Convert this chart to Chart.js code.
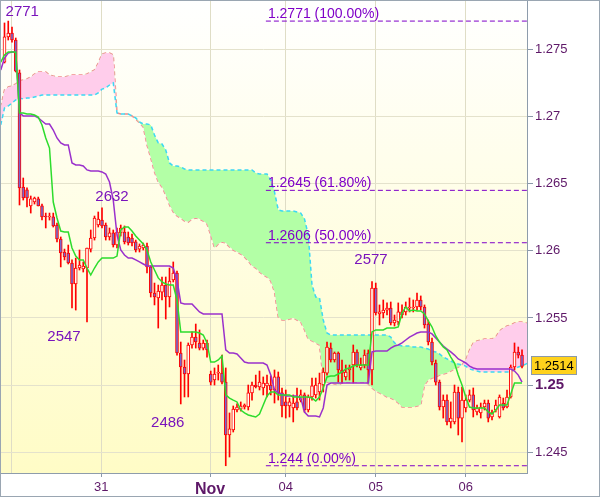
<!DOCTYPE html>
<html>
<head>
<meta charset="utf-8">
<title>Ichimoku 1H</title>
<script src="https://cdn.jsdelivr.net/npm/chart.js@4.4.1/dist/chart.umd.min.js"></script>
<style>
  html, body { margin: 0; padding: 0; background: #fff; }
  #chart { display: block; }
</style>
</head>
<body>
<canvas id="chart" width="600" height="497"></canvas>
<script>
// ---------------- DATA ----------------
// hourly candles, index 0 = first visible bar

const opens = [1.27405,1.27592,1.27621,1.27569,1.27324,1.26475,1.26453,1.26334,1.26363,1.26386,
  1.26334,1.26259,1.26252,1.26252,1.26192,1.26088,1.25991,1.25984,1.25909,1.25753,
  1.25872,1.25865,1.25872,1.26013,1.26095,1.26192,1.26229,1.26192,1.26103,1.26133,
  1.26043,1.26133,1.26140,1.26103,1.26095,1.26066,1.26013,1.26021,1.26036,1.25880,
  1.25686,1.25649,1.25693,1.25745,1.25656,1.25783,1.25835,1.25239,1.25135,1.25083,
  1.25299,1.25358,1.25314,1.25276,1.25314,1.25083,1.25038,1.25090,1.25090,1.25023,
  1.24629,1.24666,1.24815,1.24822,1.24837,1.24837,1.24942,1.25001,1.24986,1.24979,
  1.24994,1.25001,1.24964,1.25061,1.24942,1.24875,1.24845,1.24830,1.24875,1.24889,
  1.24927,1.24815,1.24912,1.24927,1.24949,1.25001,1.25090,1.25276,1.25187,1.25239,
  1.25113,1.25061,1.25113,1.25150,1.25247,1.25128,1.25150,1.25239,1.25113,1.25723,
  1.25530,1.25537,1.25559,1.25574,1.25463,1.25470,1.25545,1.25545,1.25574,1.25574,
  1.25582,1.25634,1.25582,1.25455,1.25321,1.25165,1.25023,1.24837,1.24889,1.24726,
  1.24726,1.24949,1.24755,1.24830,1.24889,1.24927,1.24800,1.24793,1.24837,1.24867,
  1.24763,1.24815,1.24763,1.24867,1.24837,1.24912,1.25135,1.25247,1.25224];

const highs = [1.27696,1.27710,1.27666,1.27584,1.27346,1.26542,1.26468,1.26408,1.26400,1.26400,
  1.26348,1.26281,1.26281,1.26281,1.26207,1.26103,1.26013,1.26043,1.25932,1.25946,
  1.26006,1.25917,1.26021,1.26155,1.26259,1.26289,1.26320,1.26207,1.26170,1.26155,
  1.26170,1.26192,1.26185,1.26140,1.26125,1.26080,1.26051,1.26058,1.26058,1.25887,
  1.25760,1.25745,1.25805,1.25805,1.25872,1.25917,1.25850,1.25321,1.25187,1.25314,
  1.25396,1.25455,1.25411,1.25336,1.25336,1.25105,1.25128,1.25150,1.25224,1.25128,
  1.24793,1.24845,1.24860,1.24875,1.24860,1.25001,1.25023,1.25075,1.25105,1.25061,
  1.25075,1.25068,1.25113,1.25098,1.24979,1.24964,1.24904,1.24927,1.24979,1.24964,
  1.24942,1.24927,1.25053,1.25053,1.25090,1.25128,1.25321,1.25314,1.25247,1.25247,
  1.25187,1.25150,1.25150,1.25299,1.25262,1.25202,1.25262,1.25262,1.25770,1.25760,
  1.25597,1.25634,1.25612,1.25619,1.25522,1.25612,1.25597,1.25619,1.25649,1.25634,
  1.25686,1.25664,1.25597,1.25485,1.25351,1.25187,1.25038,1.24927,1.24927,1.24875,
  1.25001,1.24986,1.24986,1.24927,1.24964,1.24979,1.24852,1.24867,1.24889,1.24889,
  1.24815,1.24889,1.24927,1.24904,1.24964,1.25150,1.25314,1.25284,1.25262];

const lows = [1.27398,1.27569,1.27554,1.27331,1.26341,1.26378,1.26326,1.26281,1.26348,1.26334,
  1.26229,1.26170,1.26229,1.26177,1.26066,1.25880,1.25932,1.25902,1.25574,1.25559,
  1.25857,1.25842,1.25470,1.25991,1.26080,1.26177,1.26170,1.26080,1.26080,1.26028,
  1.26021,1.26110,1.26051,1.26043,1.26036,1.25991,1.25991,1.26006,1.25835,1.25656,
  1.25597,1.25425,1.25634,1.25492,1.25582,1.25768,1.25224,1.24860,1.24912,1.24912,
  1.25276,1.25276,1.25262,1.25262,1.25209,1.25001,1.25001,1.25038,1.25009,1.24400,
  1.24465,1.24651,1.24800,1.24807,1.24822,1.24815,1.24889,1.24979,1.24964,1.24927,
  1.24912,1.24927,1.24867,1.24889,1.24763,1.24755,1.24763,1.24726,1.24815,1.24875,
  1.24800,1.24800,1.24889,1.24904,1.24889,1.24949,1.25075,1.25172,1.25172,1.25023,
  1.25016,1.25038,1.25038,1.25016,1.25135,1.25113,1.25128,1.25016,1.25001,1.25522,
  1.25448,1.25500,1.25522,1.25448,1.25440,1.25448,1.25500,1.25522,1.25545,1.25545,
  1.25559,1.25559,1.25425,1.25299,1.25150,1.25001,1.24815,1.24755,1.24703,1.24681,
  1.24711,1.24629,1.24577,1.24800,1.24875,1.24763,1.24778,1.24755,1.24815,1.24726,
  1.24741,1.24800,1.24755,1.24815,1.24830,1.24904,1.25113,1.25202,1.25128];

const closes = [1.27592,1.27621,1.27569,1.27338,1.26468,1.26393,1.26393,1.26386,1.26393,1.26334,
  1.26252,1.26252,1.26259,1.26185,1.26088,1.25984,1.25954,1.25909,1.25753,1.25872,
  1.25894,1.25887,1.26021,1.26095,1.26244,1.26237,1.26185,1.26103,1.26133,1.26043,
  1.26140,1.26170,1.26066,1.26058,1.26058,1.26006,1.26036,1.26043,1.25880,1.25686,
  1.25656,1.25701,1.25745,1.25656,1.25775,1.25835,1.25239,1.25135,1.25083,1.25299,
  1.25358,1.25321,1.25276,1.25314,1.25262,1.25023,1.25083,1.25098,1.25023,1.24629,
  1.24674,1.24822,1.24837,1.24845,1.24852,1.24942,1.25001,1.24986,1.25023,1.25016,
  1.25016,1.24964,1.25061,1.24942,1.24845,1.24845,1.24875,1.24867,1.24830,1.24927,
  1.24815,1.24912,1.24994,1.25001,1.25016,1.25098,1.25284,1.25187,1.25239,1.25113,
  1.25090,1.25098,1.25128,1.25247,1.25150,1.25150,1.25224,1.25113,1.25723,1.25537,
  1.25545,1.25559,1.25574,1.25463,1.25485,1.25545,1.25522,1.25582,1.25582,1.25582,
  1.25634,1.25582,1.25448,1.25321,1.25172,1.25023,1.24837,1.24889,1.24726,1.24755,
  1.24949,1.24755,1.24889,1.24889,1.24927,1.24815,1.24830,1.24837,1.24867,1.24755,
  1.24793,1.24852,1.24912,1.24830,1.24912,1.25135,1.25247,1.25224,1.25140];

// Ichimoku lines, first value sits at bar index -1
const lineStart = -1;

const tenkan = [1.27405,1.27458,1.27480,1.27480,1.27480,1.27026,1.27026,1.27018,1.27018,1.27011,
  1.26996,1.26937,1.26840,1.26765,1.26363,1.26244,1.26147,1.26140,1.26140,1.26021,
  1.25961,1.25932,1.25932,1.25872,1.25820,1.25872,1.25917,1.25946,1.25946,1.25946,
  1.25946,1.25961,1.26155,1.26177,1.26177,1.26147,1.26110,1.26080,1.26051,1.26006,
  1.25917,1.25857,1.25798,1.25768,1.25753,1.25745,1.25745,1.25634,1.25396,1.25396,
  1.25396,1.25396,1.25396,1.25388,1.25373,1.25314,1.25172,1.25172,1.25187,1.25217,
  1.24927,1.24904,1.24889,1.24875,1.24815,1.24793,1.24778,1.24770,1.24763,1.24785,
  1.24852,1.24919,1.24949,1.24949,1.24927,1.24927,1.24927,1.24927,1.24912,1.24912,
  1.24912,1.24912,1.24912,1.24904,1.24882,1.24912,1.24979,1.25061,1.25068,1.25068,
  1.25083,1.25098,1.25120,1.25128,1.25142,1.25150,1.25150,1.25150,1.25150,1.25396,
  1.25411,1.25411,1.25411,1.25425,1.25425,1.25425,1.25433,1.25537,1.25582,1.25552,
  1.25559,1.25552,1.25552,1.25530,1.25478,1.25433,1.25366,1.25321,1.25284,1.25262,
  1.25209,1.25165,1.25075,1.25001,1.24912,1.24837,1.24830,1.24830,1.24830,1.24830,
  1.24800,1.24785,1.24815,1.24852,1.24852,1.24852,1.24934,1.25016,1.25016,1.25016];

const kijun = [1.27346,1.27435,1.27472,1.27480,1.27480,1.27026,1.27004,1.27004,1.27004,1.27004,
  1.26989,1.26966,1.26944,1.26944,1.26899,1.26840,1.26803,1.26788,1.26788,1.26654,
  1.26639,1.26639,1.26631,1.26602,1.26594,1.26594,1.26594,1.26587,1.26572,1.26512,
  1.26378,1.26118,1.26006,1.25969,1.25946,1.25946,1.25932,1.25917,1.25902,1.25887,
  1.25887,1.25887,1.25887,1.25887,1.25887,1.25887,1.25872,1.25783,1.25612,1.25604,
  1.25604,1.25604,1.25574,1.25545,1.25530,1.25530,1.25530,1.25530,1.25530,1.25530,
  1.25262,1.25239,1.25239,1.25232,1.25202,1.25172,1.25165,1.25165,1.25165,1.25165,
  1.25165,1.25150,1.25075,1.24964,1.24942,1.24934,1.24919,1.24919,1.24919,1.24919,
  1.24904,1.24800,1.24770,1.24770,1.24770,1.24763,1.24830,1.25001,1.25016,1.25016,
  1.25016,1.25016,1.25016,1.25016,1.25016,1.25016,1.25016,1.25016,1.25016,1.25247,
  1.25254,1.25254,1.25254,1.25254,1.25276,1.25291,1.25299,1.25314,1.25336,1.25358,
  1.25373,1.25388,1.25396,1.25396,1.25396,1.25381,1.25351,1.25321,1.25291,1.25269,
  1.25247,1.25224,1.25195,1.25180,1.25165,1.25142,1.25128,1.25120,1.25120,1.25120,
  1.25120,1.25120,1.25120,1.25120,1.25120,1.25120,1.25120,1.25105,1.25075,1.25023];

const spanA = [1.26937,1.27063,1.27078,1.27100,1.27123,1.27138,1.27130,1.27138,1.27138,1.27145,
  1.27152,1.27160,1.27160,1.27160,1.27160,1.27160,1.27160,1.27160,1.27160,1.27160,
  1.27160,1.27160,1.27160,1.27160,1.27160,1.27160,1.27175,1.27204,1.27212,1.27234,
  1.27249,1.27026,1.27018,1.27018,1.27018,1.27004,1.26989,1.26959,1.26944,1.26944,
  1.26937,1.26862,1.26803,1.26795,1.26750,1.26654,1.26631,1.26631,1.26624,1.26609,
  1.26602,1.26602,1.26602,1.26602,1.26602,1.26602,1.26602,1.26602,1.26602,1.26602,
  1.26602,1.26602,1.26602,1.26602,1.26602,1.26602,1.26602,1.26602,1.26579,1.26572,
  1.26572,1.26572,1.26527,1.26438,1.26304,1.26296,1.26296,1.26296,1.26296,1.26289,
  1.26281,1.26237,1.26118,1.25745,1.25656,1.25649,1.25485,1.25388,1.25373,1.25373,
  1.25373,1.25373,1.25373,1.25373,1.25373,1.25373,1.25373,1.25373,1.25373,1.25373,
  1.25373,1.25373,1.25373,1.25373,1.25358,1.25314,1.25299,1.25291,1.25291,1.25291,
  1.25284,1.25284,1.25284,1.25276,1.25269,1.25254,1.25247,1.25232,1.25209,1.25195,
  1.25180,1.25165,1.25157,1.25150,1.25142,1.25120,1.25113,1.25105,1.25098,1.25098,
  1.25098,1.25098,1.25098,1.25098,1.25098,1.25098,1.25098,1.25120,1.25135,1.25142,
  1.25157,1.25172];

const spanB = [1.27071,1.27197,1.27219,1.27227,1.27242,1.27264,1.27272,1.27279,1.27294,1.27316,
  1.27331,1.27331,1.27331,1.27309,1.27301,1.27294,1.27294,1.27294,1.27301,1.27309,
  1.27309,1.27309,1.27309,1.27316,1.27331,1.27346,1.27398,1.27465,1.27472,1.27472,
  1.27458,1.27026,1.27018,1.27018,1.27018,1.27004,1.26981,1.26951,1.26922,1.26788,
  1.26691,1.26587,1.26512,1.26475,1.26415,1.26341,1.26289,1.26259,1.26244,1.26222,
  1.26214,1.26237,1.26244,1.26237,1.26222,1.26200,1.26118,1.26021,1.26051,1.26066,
  1.26058,1.26028,1.26006,1.25991,1.25976,1.25954,1.25924,1.25887,1.25872,1.25842,
  1.25820,1.25805,1.25775,1.25693,1.25507,1.25485,1.25485,1.25492,1.25500,1.25485,
  1.25470,1.25411,1.25344,1.25329,1.25314,1.25299,1.25038,1.25023,1.25016,1.25009,
  1.25001,1.25016,1.25023,1.25023,1.25023,1.25023,1.25023,1.25023,1.25009,1.24979,
  1.24956,1.24942,1.24927,1.24912,1.24904,1.24889,1.24867,1.24837,1.24837,1.24837,
  1.24837,1.24845,1.24852,1.25001,1.25038,1.25053,1.25061,1.25075,1.25083,1.25090,
  1.25105,1.25120,1.25135,1.25150,1.25187,1.25262,1.25314,1.25329,1.25336,1.25344,
  1.25344,1.25344,1.25358,1.25403,1.25425,1.25440,1.25448,1.25463,1.25470,1.25470,
  1.25463,1.25455];

// fibonacci retracement
const fibLevels = [1.2771, 1.2645, 1.2606, 1.244];
const fibPct = ['100.00%', '61.80%', '50.00%', '0.00%'];
const fibStartIdx = 69.7;

// swing high / low marks
const swingIdx = [1, 26, 22, 47, 98];
const swingVal = [1.2771, 1.2632, 1.2547, 1.2486, 1.2577];
const swingText = ['2771', '2632', '2547', '2486', '2577'];

// axes
const xTickIdx = [1.8, 25.8, 54.8, 75, 99, 123];
const xTickText = ['', '31', 'Nov', '04', '05', '06'];
const yTicks = [1.245, 1.25, 1.255, 1.26, 1.265, 1.27, 1.275];
const yTickText = ['1.245', '1.25', '1.255', '1.26', '1.265', '1.27', '1.275'];
const lastPrice = 1.2514;

// ---------------- LAYOUT / STYLE ----------------
const X_MIN = -1.2, X_MAX = 139.33;
const Y_MIN = 1.24346, Y_MAX = 1.27867;
const FONT = 'Arial, "Liberation Sans", sans-serif';
const swingOffset = [[14, -9], [10, -11], [-23, 15], [-13, 19], [-1, -22]];

const toPoints = (arr, start) => arr.map((v, k) => ({ x: start + k, y: v }));

const wickData = opens.map((o, i) => ({ x: i, y: [lows[i], highs[i]] }));
const bodyData = opens.map((o, i) => ({ x: i, y: [o, closes[i]] }));
const bodyFill = opens.map((o, i) => closes[i] >= o ? '#fffff4' : '#7868cc');

const datasets = [
  {
    // 0: senkou span B
    type: 'line', data: toPoints(spanB, lineStart),
    borderColor: '#f08a8a', borderWidth: 1.5, borderDash: [4, 3],
    pointRadius: 0, fill: false, order: 8, clip: 0
  },
  {
    // 1: senkou span A, cloud filled against span B
    type: 'line', data: toPoints(spanA, lineStart),
    borderColor: '#3cd8f4', borderWidth: 1.5, borderDash: [4, 3],
    pointRadius: 0, order: 7, clip: 0,
    fill: { target: 0, above: '#b3ffa6', below: '#ffcdeb' }
  },
  {
    type: 'bar', data: wickData, backgroundColor: '#ff0000',
    barThickness: 1, borderWidth: 0, grouped: false, order: 5
  },
  {
    type: 'bar', data: bodyData, backgroundColor: bodyFill,
    borderColor: '#ff0000', borderWidth: 1, borderSkipped: false,
    barThickness: 3, grouped: false, order: 4
  },
  {
    type: 'line', data: toPoints(tenkan, lineStart),
    borderColor: '#2ddc2d', borderWidth: 1.5, pointRadius: 0, fill: false, order: 2, clip: 0
  },
  {
    type: 'line', data: toPoints(kijun, lineStart),
    borderColor: '#9a30cc', borderWidth: 1.5, pointRadius: 0, fill: false, order: 2, clip: 0
  }
];

fibLevels.forEach(lv => {
  datasets.push({
    type: 'line', data: [{ x: fibStartIdx, y: lv }, { x: X_MAX + 1, y: lv }],
    borderColor: '#7f00c8', borderWidth: 1, borderDash: [5, 3],
    pointRadius: 0, fill: false, order: 1, clip: 0
  });
});

// ---------------- PLUGINS ----------------
const bgPlugin = {
  id: 'bg',
  beforeDraw(chart) {
    const { ctx, chartArea: a } = chart;
    ctx.save();
    ctx.fillStyle = '#ffffff';
    ctx.fillRect(0, 0, chart.width, chart.height);
    const g = ctx.createLinearGradient(0, a.top, 0, a.bottom);
    g.addColorStop(0, '#ffffff');
    g.addColorStop(1, '#fffcc6');
    ctx.fillStyle = g;
    ctx.fillRect(a.left, a.top, a.right - a.left, a.bottom - a.top);
    ctx.restore();
  }
};

const overlayPlugin = {
  id: 'overlay',
  afterDatasetsDraw(chart) {
    const { ctx, scales: { x, y } } = chart;
    ctx.save();

    // fib labels
    ctx.font = '14px ' + FONT;
    ctx.fillStyle = '#7f00c8';
    ctx.textAlign = 'left';
    ctx.textBaseline = 'alphabetic';
    fibLevels.forEach((lv, k) => {
      ctx.fillText(lv + ' (' + fibPct[k] + ')', x.getPixelForValue(fibStartIdx) + 2, y.getPixelForValue(lv) - 3);
    });

    // swing labels
    ctx.font = '15px ' + FONT;
    ctx.fillStyle = '#7a14bc';
    ctx.textAlign = 'center';
    ctx.textBaseline = 'middle';
    swingText.forEach((t, k) => {
      ctx.fillText(t,
        x.getPixelForValue(swingIdx[k]) + swingOffset[k][0],
        y.getPixelForValue(swingVal[k]) + swingOffset[k][1]);
    });
    ctx.restore();
  },
  afterDraw(chart) {
    const { ctx, chartArea: a, scales: { y } } = chart;
    ctx.save();

    // last price box
    const py = Math.round(y.getPixelForValue(lastPrice));
    ctx.font = '13px ' + FONT;
    const txt = lastPrice.toFixed(4);
    const w = Math.ceil(ctx.measureText(txt).width) + 5;
    ctx.fillStyle = '#ffd21c';
    ctx.fillRect(a.right + 4.5, py - 9.5, w, 18);
    ctx.strokeStyle = '#8c9aa8';
    ctx.lineWidth = 1;
    ctx.strokeRect(a.right + 4.5, py - 9.5, w, 18);
    ctx.fillStyle = '#000';
    ctx.textAlign = 'left';
    ctx.textBaseline = 'middle';
    ctx.fillText(txt, a.right + 7, py);

    // outer frame
    ctx.strokeStyle = '#9aa6b2';
    ctx.strokeRect(0.5, 0.5, chart.width - 1, chart.height - 1);
    ctx.restore();
  }
};

// ---------------- CHART ----------------
new Chart(document.getElementById('chart'), {
  type: 'line',
  data: { datasets },
  options: {
    responsive: false,
    animation: false,
    events: [],
    layout: { padding: 0 },
    plugins: { legend: { display: false }, tooltip: { enabled: false } },
    scales: {
      x: {
        type: 'linear', min: X_MIN, max: X_MAX, offset: false,
        afterBuildTicks: s => { s.ticks = xTickIdx.map(v => ({ value: v })); },
        afterFit: s => { s.height = 24; s.paddingLeft = 0; s.paddingRight = 0; },
        grid: {
          offset: false, color: '#dfddc6', tickLength: 4,
          tickColor: c => c.index === 0 ? 'rgba(0,0,0,0)' : '#8a98a8'
        },
        border: { color: '#8e9cab' },
        ticks: {
          autoSkip: false, maxRotation: 0, padding: 3, color: '#5e1868',
          font: c => xTickText[c.index] === 'Nov'
            ? { family: FONT, size: 16, weight: 'bold' }
            : { family: FONT, size: 13 },
          callback: (v, i) => xTickText[i]
        }
      },
      y: {
        type: 'linear', position: 'right', min: Y_MIN, max: Y_MAX, beginAtZero: false,
        afterBuildTicks: s => { s.ticks = yTicks.map(v => ({ value: v })); },
        afterFit: s => { s.width = 73; s.paddingTop = 0; s.paddingBottom = 0; },
        grid: { color: '#e4e2cc', tickLength: 6, tickColor: '#8a98a8' },
        border: { color: '#8e9cab' },
        ticks: {
          padding: 2, color: '#5e1868',
          font: c => yTickText[c.index] === '1.25'
            ? { family: FONT, size: 15, weight: 'bold' }
            : { family: FONT, size: 13 },
          callback: (v, i) => yTickText[i]
        }
      }
    }
  },
  plugins: [bgPlugin, overlayPlugin]
});
</script>
</body>
</html>
